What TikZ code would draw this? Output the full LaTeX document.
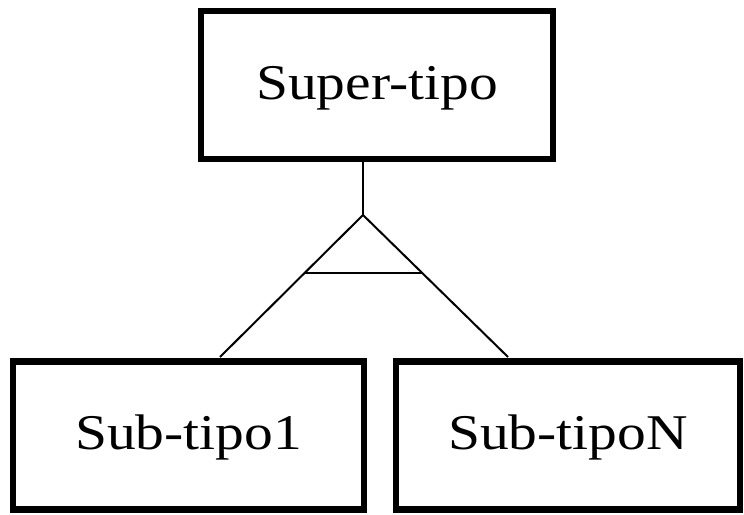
\documentclass[tikz,border=0pt]{standalone}
\usepackage{fontspec}
\setmainfont[FakeStretch=1.15]{Liberation Serif}
\usepackage{tikz}
\usetikzlibrary{positioning, calc}

\begin{document}
\begin{tikzpicture}[x=1pt, y=-1pt,
    entbox/.style={draw, line width=6.5pt, inner sep=0pt, minimum height=148pt,
                   text height=28pt, text depth=0pt,
                   font=\fontsize{50}{54}\selectfont},
    isaline/.style={line width=2pt}]
  \fill[white] (0,0) rectangle (744,514);
  \useasboundingbox (0,0) rectangle (744,514);

  % entities
  \node[entbox, minimum width=352pt] (super) at (377,85) {Super-tipo};
  \node[entbox, minimum width=351pt] (sub1) at (188.5,435.5) {Sub-tipo1};
  \node[entbox, minimum width=344pt] (subN) at (568,435.5) {Sub-tipoN};

  % generalisation triangle
  \coordinate (isa) at (363,215);
  \coordinate (leg1) at (220,357);
  \coordinate (legN) at (508,357);
  \draw[isaline] (super.south -| isa) -- (isa);
  \draw[isaline] (leg1) -- (isa) -- (legN);
  \draw[isaline] ($(isa)!0.41!(leg1)$) -- ($(isa)!0.41!(legN)$);
\end{tikzpicture}
\end{document}
